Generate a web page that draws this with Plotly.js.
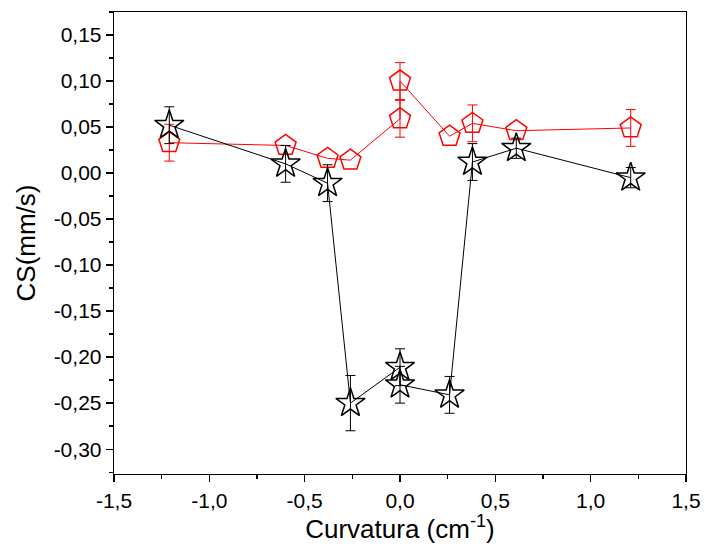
<!DOCTYPE html>
<html>
<head>
<meta charset="utf-8">
<script src="https://cdn.plot.ly/plotly-3.0.1.min.js"></script>
<style>html,body{margin:0;padding:0;background:#fff;}#chart{width:705px;height:550px;}</style>
</head>
<body>
<div id="chart"></div>
<script>
// Red series (pentagons)
const redX = [-1.21, -0.60, -0.38, -0.26, 0.00, 0.00, 0.26, 0.38, 0.61, 1.21];
const redY = [0.033, 0.030, 0.016, 0.014, 0.059, 0.100, 0.040, 0.054, 0.046, 0.049];
// NaN = error bar hidden inside the marker in the reference
const redErr = [0.02, NaN, NaN, NaN, 0.02, 0.02, NaN, 0.02, NaN, 0.02];
// Black series (stars)
const blackX = [-1.21, -0.60, -0.38, -0.26, 0.00, 0.00, 0.26, 0.38, 0.61, 1.21];
const blackY = [0.052, 0.010, -0.011, -0.250, -0.211, -0.230, -0.241, 0.012, 0.027, -0.005];
const blackErr = [0.02, 0.02, 0.02, 0.03, 0.02, 0.02, 0.02, 0.02, 0.011, 0.011];
// Tick labels
const xTickVals = [-1.5, -1.0, -0.5, 0.0, 0.5, 1.0, 1.5];
const xTickText = ["-1,5", "-1,0", "-0,5", "0,0", "0,5", "1,0", "1,5"];
const yTickVals = [0.15, 0.10, 0.05, 0.00, -0.05, -0.10, -0.15, -0.20, -0.25, -0.30];
const yTickText = ["0,15", "0,10", "0,05", "0,00", "-0,05", "-0,10", "-0,15", "-0,20", "-0,25", "-0,30"];

const traces = [
  {
    x: redX, y: redY, type: 'scatter', mode: 'lines+markers',
    line: {color: '#ff0000', width: 1},
    marker: {symbol: 'pentagon-open', size: 22, color: '#ff0000', line: {width: 1.5, color: '#ff0000'}},
    error_y: {type: 'data', array: redErr, visible: true, color: '#ff0000', thickness: 1, width: 5}
  },
  {
    x: blackX, y: blackY, type: 'scatter', mode: 'lines+markers',
    line: {color: '#000000', width: 1},
    marker: {symbol: 'star-open', size: 22, color: '#000000', line: {width: 1.5, color: '#000000'}},
    error_y: {type: 'data', array: blackErr, visible: true, color: '#000000', thickness: 1, width: 5}
  }
];

const layout = {
  width: 705, height: 550,
  margin: {l: 114, r: 19, t: 12, b: 76},
  showlegend: false,
  paper_bgcolor: '#fff', plot_bgcolor: '#fff',
  font: {family: 'Liberation Sans, Arial, sans-serif', color: '#000', size: 21},
  xaxis: {
    range: [-1.5, 1.5], showgrid: false, zeroline: false,
    showline: true, linecolor: '#000', linewidth: 1.3, mirror: true,
    ticks: 'outside', ticklen: 7, tickwidth: 1.3, tickcolor: '#000',
    tickvals: xTickVals, ticktext: xTickText, tickfont: {size: 21},
    minor: {ticks: 'outside', ticklen: 4, tickwidth: 1.3, tickcolor: '#000', dtick: 0.25, showgrid: false},
    title: {text: 'Curvatura (cm<sup>-1</sup>)', font: {size: 26}, standoff: 8}
  },
  yaxis: {
    range: [-0.327, 0.175], showgrid: false, zeroline: false,
    showline: true, linecolor: '#000', linewidth: 1.3, mirror: true,
    ticks: 'outside', ticklen: 7, tickwidth: 1.3, tickcolor: '#000',
    tickvals: yTickVals, ticktext: yTickText, tickfont: {size: 21},
    minor: {ticks: 'outside', ticklen: 4, tickwidth: 1.3, tickcolor: '#000', dtick: 0.025, showgrid: false},
    title: {text: 'CS(mm/s)', font: {size: 26}, standoff: 10}
  }
};

Plotly.newPlot('chart', traces, layout, {displayModeBar: false, staticPlot: true});
</script>
</body>
</html>
